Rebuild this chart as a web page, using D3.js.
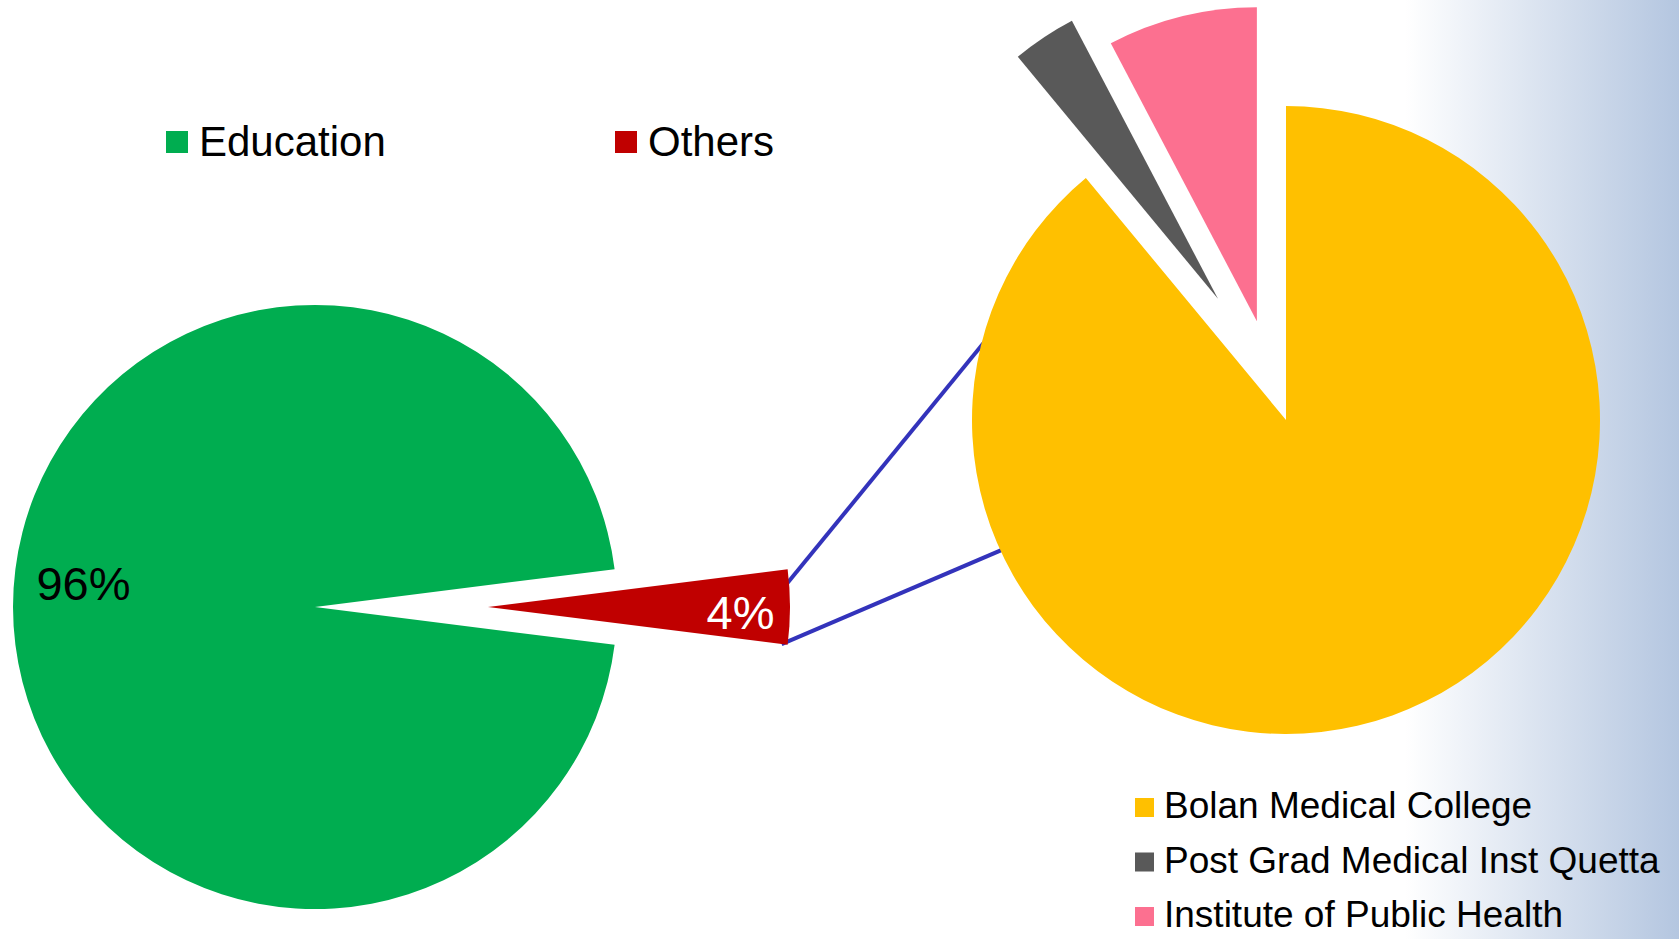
<!DOCTYPE html>
<html>
<head>
<meta charset="utf-8">
<script src="https://cdn.jsdelivr.net/npm/d3@7"></script>
<style>
  body { margin: 0; background: #fff; }
  svg { display: block; font-family: "Liberation Sans", Arial, sans-serif; }
</style>
</head>
<body>
<svg id="chart" width="1679" height="939"></svg>
<script>
// data
const mainCategories = ["Education", "Others"];
const mainValues = [96, 4];
const mainLabels = ["96%", "4%"];
const subCategories = ["Bolan Medical College", "Post Grad Medical Inst Quetta", "Institute of Public Health"];
const subValues = [89, 3.3, 7.7];

const mainColors = ["#00AD50", "#C00000"];
const subColors = ["#FFC000", "#595959", "#FC7090"];

const svg = d3.select("#chart");
const W = 1679, H = 939;

// background: white fading into light blue at the right edge
const defs = svg.append("defs");
const bg = defs.append("linearGradient")
  .attr("id", "bg")
  .attr("gradientUnits", "userSpaceOnUse")
  .attr("x1", 1405).attr("y1", 0).attr("x2", W).attr("y2", 0);
bg.append("stop").attr("offset", "0%").attr("stop-color", "#ffffff");
bg.append("stop").attr("offset", "100%").attr("stop-color", "#B4C6E0");
svg.append("rect").attr("width", W).attr("height", H).attr("fill", "url(#bg)");

function offset(d, dist, tilt) {
  const m = (d.startAngle + d.endAngle) / 2 + (tilt || 0);
  return [Math.sin(m) * dist, -Math.cos(m) * dist];
}

// ---- left pie ----
const c1 = { x: 315, y: 607 }, r1 = 302;
const halfOthers = mainValues[1] / d3.sum(mainValues) * Math.PI;
const pie1 = d3.pie().sort(null)
  .startAngle(Math.PI / 2 + halfOthers)
  .endAngle(Math.PI / 2 + halfOthers + 2 * Math.PI);
const arcs1 = pie1(mainValues);
const arc1 = d3.arc().innerRadius(0).outerRadius(r1);
const explode1 = [0, 173];

// ---- right pie ----
const c2 = { x: 1286, y: 420 }, r2 = 314;
const pie2 = d3.pie().sort(null);
const arcs2 = pie2(subValues);
const arc2 = d3.arc().innerRadius(0).outerRadius(r2);
const explode2 = [0, 139, 103];
const tilt2 = [0, 0.076, -0.045];

// series lines from the exploded slice to the second pie (drawn under it)
const oth = arcs1[1];
const [ox, oy] = offset(oth, explode1[1]);
const onSlice = (t, k) => {
  const a = oth.startAngle + t * (oth.endAngle - oth.startAngle);
  return [c1.x + ox + Math.sin(a) * r1 * k, c1.y + oy - Math.cos(a) * r1 * k];
};
const pTop = onSlice(0.29, 0.97), pBot = onSlice(1, 0.98);
const lineEnds = [[1040, 274], [1060, 525]];
svg.append("g").selectAll("line")
  .data([[pTop, lineEnds[0]], [pBot, lineEnds[1]]])
  .join("line")
  .attr("x1", d => d[0][0]).attr("y1", d => d[0][1])
  .attr("x2", d => d[1][0]).attr("y2", d => d[1][1])
  .attr("stroke", "#3333BB")
  .attr("stroke-width", 4);

svg.append("g")
  .attr("transform", `translate(${c1.x},${c1.y})`)
  .selectAll("path")
  .data(arcs1)
  .join("path")
  .attr("transform", (d, i) => `translate(${offset(d, explode1[i])})`)
  .attr("d", arc1)
  .attr("fill", (d, i) => mainColors[i]);

svg.append("g")
  .attr("transform", `translate(${c2.x},${c2.y})`)
  .selectAll("path")
  .data(arcs2)
  .join("path")
  .attr("transform", (d, i) => `translate(${offset(d, explode2[i], tilt2[i])})`)
  .attr("d", arc2)
  .attr("fill", (d, i) => subColors[i]);

// data labels
const labelArc = d3.arc().innerRadius(r1 * 0.77).outerRadius(r1 * 0.77);
const labelDy = [-7, 22];
const labelFill = ["#000", "#fff"];
const labelDx = [1, 20];
svg.append("g")
  .attr("transform", `translate(${c1.x},${c1.y})`)
  .selectAll("text")
  .data(arcs1)
  .join("text")
  .attr("x", (d, i) => labelArc.centroid(d)[0] + offset(d, explode1[i])[0] + labelDx[i])
  .attr("y", (d, i) => labelArc.centroid(d)[1] + labelDy[i])
  .attr("text-anchor", "middle")
  .attr("font-size", 47)
  .attr("fill", (d, i) => labelFill[i])
  .text((d, i) => mainLabels[i]);

// legend, main pie
const leg1x = [166, 615];
const leg1 = svg.append("g").selectAll("g")
  .data(mainCategories)
  .join("g")
  .attr("transform", (d, i) => `translate(${leg1x[i]},131)`);
leg1.append("rect").attr("width", 22).attr("height", 22)
  .attr("fill", (d, i) => mainColors[i]);
leg1.append("text").attr("x", 33).attr("y", 25)
  .attr("font-size", 42).attr("fill", "#000")
  .text(d => d);

// legend, second pie
const leg2 = svg.append("g").selectAll("g")
  .data(subCategories)
  .join("g")
  .attr("transform", (d, i) => `translate(1135,${798 + i * 54.5})`);
leg2.append("rect").attr("width", 19).attr("height", 19)
  .attr("fill", (d, i) => subColors[i]);
leg2.append("text").attr("x", 29).attr("y", 20)
  .attr("font-size", 37).attr("fill", "#000")
  .text(d => d);
</script>
</body>
</html>
